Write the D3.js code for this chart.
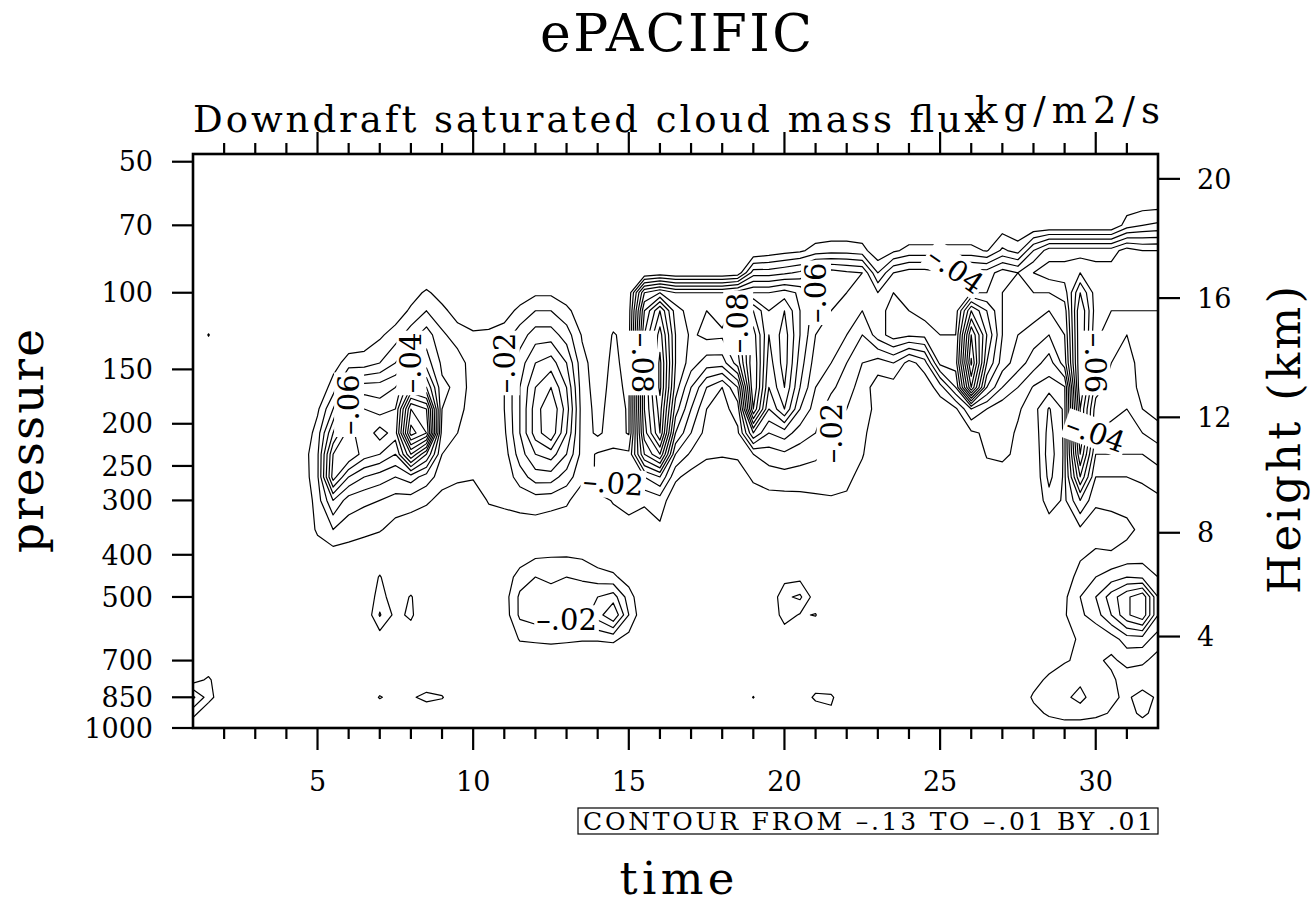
<!DOCTYPE html>
<html>
<head>
<meta charset="utf-8">
<script src="https://cdn.jsdelivr.net/npm/d3@7"></script>
<style>
  body { margin: 0; background: #fff; }
  text { font-family: "DejaVu Serif", serif; fill: #000; }
</style>
</head>
<body>
<svg id="chart" width="1314" height="907"></svg>
<script>
// grid: time (days) x pressure (hPa); values are downdraft flux in units of -0.01 kg/m2/s
var times = [1, 1.5, 2, 2.5, 3, 3.5, 4, 4.5, 5, 5.5, 6, 6.5, 7, 7.5, 8, 8.5, 9, 9.5, 10, 10.5,
  11, 11.5, 12, 12.5, 13, 13.5, 14, 14.5, 15, 15.5, 16, 16.5, 17, 17.5, 18, 18.5, 19, 19.5, 20, 20.5,
  21, 21.5, 22, 22.5, 23, 23.5, 24, 24.5, 25, 25.5, 26, 26.5, 27, 27.5, 28, 28.5, 29, 29.5, 30, 30.5,
  31, 31.5, 32];
var levels = [1000, 925, 850, 775, 700, 625, 550, 500, 450, 400, 350, 300, 265, 235, 210, 185, 165,
  145, 125, 110, 100, 90, 80, 70, 60, 48];

// one row per level, top of the atmosphere first
var f48 = [0,0,0,0,0,0,0,0,0, 0,0,0,0,0,0,0,0,0, 0,0,0,0,0,0,0,0,0, 0,0,0,0,0,0,0,0,0, 0,0,0,0,0,0,0,0,0, 0,0,0,0,0,0,0,0,0, 0,0,0,0,0,0,0,0,0];
var f60 = [0,0,0,0,0,0,0,0,0, 0,0,0,0,0,0,0,0,0, 0,0,0,0,0,0,0,0,0, 0,0,0,0,0,0,0,0,0, 0,0,0,0,0,0,0,0,0, 0,0,0,0,0,0,0,0,0, 0,0,0,0,0,0,0,0,0];
var f70 = [0,0,0,0,0,0,0,0,0, 0,0,0,0,0,0,0,0,0, 0,0,0,0,0,0,0,0,0, 0,0,0,0,0,0,0,0,0, 0,0,0,0,0,0,0,0,0, 0,0,0,0,0,0,0,0.4,0, 0,0,0,0,0,0,1.5,2,2.2];
var f80 = [0,0,0,0,0,0,0,0,0, 0,0,0,0,0,0,0,0,0, 0,0,0,0,0,0,0,0,0, 0,0,0,0,0,0,0,0,0, 0,0.3,0.6,0.8,1.4,1.6,1.6,1.4,0.2, 0.8,1.3,1.3,1.3,1.3,1.3,0.9,2.2,1.6, 4,5.5,5.5,5.5,5.5,5.5,6.5,6,6];
var f90 = [0,0,0,0,0,0,0,0,0, 0,0,0,0,0,0,0,0,0, 0,0,0,0,0,0,0,0,0, 0,0,0,0.3,0,0,0,0,0.3, 3.5,3.5,3.8,4.2,5.5,5.5,5.2,5,2, 4,4.5,4.5,4.2,4.5,4.5,4.5,5.5,5, 6,6.5,6.5,7,6.5,6.5,7,6.5,6.5];
var f100 = [0,0,0,0,0,0,0,0,0, 0,0,0,0,0,0.5,1.2,0.5,0, 0,0,0,0.3,0.8,0.8,0.3,0,0, 0,0.3,6,7,6,6,6,6,6.5, 7,7,7.5,6.8,6,5.5,5,4.5,4, 5,4.5,4,4,4.3,5,5,5,4.5, 5,5,5.5,9,6.5,6,7,6.5,6.5];
var f110 = [0,0,0,0,0,0,0,0,0, 0,0,0,0,0.3,1.2,2,1.3,0.5, 0,0,0.5,1.3,2,2,1.3,0.3,0, 0.3,0.5,8,11,7.5,6.5,7,6.5,7.5, 10,8,9,7,5.5,5,4.5,4,4.5, 5.5,5,4.8,4.5,4.5,9,7,5,4.5, 4.5,4,4.5,10,6.5,6,6,6,6];
var f125 = [0,1.05,0,0,0,0,0,0,0, 0,0,0.3,0.8,1.5,2.5,3.5,2.2,1.5, 1.2,1.3,1.5,2.5,3.5,3.5,2.5,0.9,0, 1.1,0.6,9,12.5,8,6.8,7.3,7.2,8.5, 11.5,8,9.5,7,5,4.5,4,3,4.5, 5.5,5.2,5.3,5,5,12,8,5,4, 3.5,3,4,10,6.2,5.5,5,5,5.5];
var f145 = [0,0,0,0,0,0,0,0,0, 0.5,1.5,1.5,2,3,4,4.5,2.8,2.5, 1.5,1.1,2,3.5,5,5.5,4,1.3,0.5, 1.2,0.7,9,13.3,8,6.5,5.5,5.5,7.5, 12,7.5,9.5,6.5,4.5,4,3,2,1.5, 2,0.6,1.5,5.3,5.5,13.2,7,4.5,3.5, 2.5,1.5,3.5,10,6,5,4.5,5.5,6];
var f165 = [0,0,0,0,0,0,0,0,0, 1.5,4,4.5,4.5,5,8,7,3.2,2.8, 1.4,1.1,2,4,6,7,5,1.4,0.6, 1.3,0.8,9,13.3,7.5,5,3,2,4, 12,7,9,6,4,3.2,2.5,1.5,0.5, 0.5,0.2,0.3,1.5,4,11,5,3,2, 0.9,0.6,0.9,10,5.5,4.5,4.2,5.5,6];
var f185 = [0,0,0,0,0,0,0,0,0.8, 3,6.5,6,5.5,6,12,11,3,2.5, 1.3,1.2,2,4,6.5,8,5.5,1.5,0.7, 1.4,0.9,9,12.5,6.5,4,2,1.6,2.5, 11,6,8,5,3.5,2.5,2,1.3,0.8, 0.5,0,0,0.3,0.8,3,2,1.3,1.1, 0.6,2.1,0.8,9,4.5,4.2,4,5,5.5];
var f210 = [0,0,0,0,0,0,0,0,1.5, 5,7.5,6.2,7.5,6.5,13.5,12,2.5,2, 1.3,1.2,1.8,4,6.5,7.8,5,1.5,0.8, 1.5,0.9,8.5,12,5,3,1.6,1.4,1.8, 6,4,4.5,3.5,3,2,1.6,1.2,0.5, 0,0,0,0,0,0.8,1.2,1.3,0.9, 0.3,2.4,0.8,9,4,3.8,3.5,4,4.5];
var f235 = [0,0,0,0,0,0,0,0.4,1.8, 7,8,6.5,6,5,9,6,2,1.6, 1.2,1.3,1.5,3.5,5,5.5,4,1.6,2.1, 2.2,2.2,7,9,3,1.8,1.2,1.1,1.2, 2,2.5,2.8,2.5,2.2,1.8,1.5,1.1,0, 0,0,0,0,0,0,1.1,1.2,0.8, 0,2.6,0.8,8,3,3,3,3,3.5];
var f265 = [0,0,0,0,0,0,0,0.3,1.8, 7.5,5,4,3.5,3,3.5,2.5,1.5,1.2, 1.1,1.2,1.3,2.5,3.5,3.5,2.5,1.3,2.2, 2.3,2.5,3,4,1.2,0.6,0.3,0.3,0.4, 1.2,1.5,1.6,1.5,1.5,1.4,1.3,0.6,0, 0,0,0,0,0,0,0.5,0.6,0, 0,2.3,0.8,6,2,2,2,2.2,2.5];
var f300 = [0,0,0,0,0,0,0,0,1.5, 4,2.5,2.2,2,1.6,1.5,1.2,0.6,0.4, 0.3,1.1,1.2,1.3,1.5,1.4,1.2,0.3,0.5, 1.1,1.2,1.2,1.5,0.3,0,0,0,0, 0.4,0.6,0.6,0.7,0.8,0.9,0.8,0,0, 0,0,0,0,0,0,0,0,0, 0,1.6,0.8,3,1.2,1.3,1.3,1.5,1.8];
var f350 = [0,0,0,0,0,0,0,0,1.2, 2,1.5,1.3,1.1,0.6,0.3,0,0,0, 0,0.3,0.5,0.6,0.5,0.3,0.2,0,0, 0.3,0.8,0.3,0.8,0,0,0,0,0, 0,0,0,0,0,0,0,0,0, 0,0,0,0,0,0,0,0,0, 0,0.3,0.3,0.8,0.4,0.5,0.8,1.2,1.5];
var f400 = [0,0,0,0,0,0,0,0,0.3, 0.5,0.5,0.3,0,0,0,0,0,0, 0,0,0,0.3,0.8,0.9,0.9,0.8,0.3, 0.2,0,0,0,0,0,0,0,0, 0,0,0,0,0,0,0,0,0, 0,0,0,0,0,0,0,0,0, 0,0,0,0.8,1.2,1.1,1.3,1.5,1.5];
var f450 = [0,0,0,0,0,0,0,0,0, 0,0,0,1.1,0,0,0,0,0, 0,0,0.3,1.5,2,1.8,2,1.8,1.5, 1.2,0.5,0,0,0,0,0,0,0, 0,0,0.6,0.7,0,0,0,0,0, 0,0,0,0,0,0,0,0,0, 0,0,0.3,1.5,2,2.5,3,2.8,2];
var f500 = [0,0,0,0,0,0,0,0,0, 0,0,0,1.5,0.3,1.1,0,0,0, 0,0,0.5,2.2,2.5,2.4,2.5,2.8,3, 3.5,1.5,0,0,0,0,0,0,0, 0,0,1.8,2.2,0.4,0,0,0,0, 0,0,0,0,0,0,0,0,0, 0,0,0.8,2,3,4.5,5.8,6.8,3];
var f550 = [0,0,0,0,0,0,0,0,0, 0,0,0,2.1,0.7,1.2,0,0,0, 0,0,0.4,2.2,2.5,2.3,2.2,2.6,3.5, 5,2,0,0,0,0,0,0,0, 0,0,1.5,0.9,1.05,0,0,0,0, 0,0,0,0,0,0,0,0,0, 0,0,0.9,1.8,2.5,4,5.8,6.8,3];
var f625 = [0,0,0,0,0,0,0,0,0, 0,0,0,0.4,0,0.3,0,0,0, 0,0,0,1.1,1.2,1.3,1.2,1.1,1.1, 1.2,0.6,0,0,0,0,0,0,0, 0,0,0.2,0.2,0,0,0,0,0, 0,0,0,0,0,0,0,0,0, 0,0,0.5,1.2,1.1,1.5,2.5,2.5,1.5];
var f700 = [0,0,0,0,0,0,0,0,0, 0,0,0,0,0,0,0,0,0, 0,0,0,0,0,0,0,0,0, 0,0,0,0,0,0,0,0,0, 0,0,0,0,0,0,0,0,0, 0,0,0,0,0,0,0,0,0, 0,0.3,0.9,1.2,1.2,0.8,1.3,1.2,0.6];
var f775 = [0.5,1.2,0,0,0,0,0,0,0, 0,0,0,0,0,0,0,0,0, 0,0,0,0,0,0,0,0,0, 0,0,0,0,0,0,0,0,0, 0,0,0,0,0,0,0,0,0, 0,0,0,0,0,0,0,0,0, 0.5,1.3,1.6,1.8,1.5,1.2,0.5,0.3,0];
var f850 = [3.2,1.5,0,0,0,0,0,0,0, 0,0,0,1.1,0.5,0.8,1.4,1.1,0, 0,0,0,0,0,0,0,0,0, 0,0,0,0,0,0,0,0,0, 1.05,0,0,0,1.3,1.2,0,0,0, 0,0,0,0,0,0,0,0,0, 1.2,1.6,1.8,2.3,1.5,1.2,0.8,1.5,0.8];
var f925 = [1.4,0,0,0,0,0,0,0,0, 0,0,0,0,0,0,0,0,0, 0,0,0,0,0,0,0,0,0, 0,0,0,0,0,0,0,0,0, 0,0,0,0,0,0.8,0,0,0, 0,0,0,0,0,0,0,0,0, 0.6,1.2,1.5,1.5,1.3,0.9,0.5,1.3,0.5];
var f1000 = [0,0,0,0,0,0,0,0,0, 0,0,0,0,0,0,0,0,0, 0,0,0,0,0,0,0,0,0, 0,0,0,0,0,0,0,0,0, 0,0,0,0,0,0,0,0,0, 0,0,0,0,0,0,0,0,0, 0.2,0.3,0.4,0.4,0.3,0.2,0.2,0.3,0];

var contourLevels = [-0.13, -0.12, -0.11, -0.10, -0.09, -0.08, -0.07, -0.06, -0.05, -0.04, -0.03, -0.02, -0.01];

var pressureTicks = [50, 70, 100, 150, 200, 250, 300, 400, 500, 700, 850, 1000];
var heightTicks = [4, 8, 12, 16, 20];
var timeLabels = [5, 10, 15, 20, 25, 30];

// where the line labels sit (value, time, pressure, text angle)
var lineLabels = [
  { v: -0.06, t: 5.6, p: 175, rot: -90 },
  { v: -0.04, t: 8.2, p: 140, rot: -90 },
  { v: -0.02, t: 10.9, p: 140, rot: -90 },
  { v: -0.02, t: 14.5, p: 250, rot: 5 },
  { v: -0.08, t: 14.95, p: 150, rot: 90 },
  { v: -0.08, t: 18.9, p: 125, rot: -90 },
  { v: -0.06, t: 20.8, p: 98, rot: -90 },
  { v: -0.02, t: 21.8, p: 200, rot: -90 },
  { v: -0.04, t: 25.5, p: 105, rot: 35 },
  { v: -0.06, t: 30.0, p: 140, rot: 90 },
  { v: -0.04, t: 30.0, p: 205, rot: 20 },
  { v: -0.02, t: 13.0, p: 590, rot: 0 }
];

var svg = d3.select("#chart");
var pL = 193, pR = 1158, pT = 154, pB = 728;

var x = d3.scaleLinear().domain([1, 32]).range([pL, pR]);
var y = d3.scaleLog().domain([1000, 48]).range([pB, pT]);

// grid index -> pixel
var gx = d3.scaleLinear().domain(times.map(function (d, i) { return i; })).range(times.map(x)).clamp(true);
var gy = d3.scaleLinear().domain(levels.map(function (d, j) { return j; })).range(levels.map(y)).clamp(true);

var rows = [f1000, f925, f850, f775, f700, f625, f550, f500, f450, f400, f350, f300, f265,
  f235, f210, f185, f165, f145, f125, f110, f100, f90, f80, f70, f60, f48];
var field = [].concat.apply([], rows);
var thresholds = contourLevels.map(function (v) { return Math.round(-v * 100); });

var contours = d3.contours()
  .size([times.length, levels.length])
  .thresholds(thresholds)(field);

function toPx(p) { return [gx(p[0] - 0.5), gy(p[1] - 0.5)]; }

svg.append("clipPath").attr("id", "clip")
  .append("rect").attr("x", pL).attr("y", pT).attr("width", pR - pL).attr("height", pB - pT);

var line = d3.line().curve(d3.curveLinearClosed);

var cg = svg.append("g").attr("clip-path", "url(#clip)");
cg.selectAll("path")
  .data(contours)
  .enter().append("path")
  .attr("d", function (c) {
    return c.coordinates.map(function (poly) {
      return poly.map(function (ring) { return line(ring.map(toPx)); }).join("");
    }).join("");
  })
  .attr("fill", "none")
  .attr("stroke", "#000")
  .attr("stroke-width", 1.2)
  .attr("stroke-linejoin", "round");

// line labels, snapped onto the nearest point of their own contour
var lg = svg.append("g");
lineLabels.forEach(function (l) {
  var k = Math.round(-l.v * 100);
  var c = contours.find(function (d) { return d.value === k; });
  var ax = x(l.t), ay = y(l.p), best = [ax, ay], bd = 35 * 35;
  c.coordinates.forEach(function (poly) {
    poly.forEach(function (ring) {
      ring.forEach(function (p) {
        var q = toPx(p), dd = (q[0] - ax) * (q[0] - ax) + (q[1] - ay) * (q[1] - ay);
        if (dd < bd) { bd = dd; best = q; }
      });
    });
  });
  var g = lg.append("g").attr("transform", "translate(" + best[0] + "," + best[1] + ") rotate(" + l.rot + ")");
  var t = g.append("text")
    .attr("text-anchor", "middle")
    .attr("dy", "0.36em")
    .style("font-size", "29px")
    .text("\u2013" + Math.abs(l.v).toFixed(2).slice(1));
  var bb = t.node().getBBox();
  g.insert("rect", "text")
    .attr("x", bb.x - 2).attr("y", bb.y + 2)
    .attr("width", bb.width + 4).attr("height", bb.height - 4)
    .attr("fill", "#fff");
});

// frame
svg.append("rect")
  .attr("x", pL).attr("y", pT).attr("width", pR - pL).attr("height", pB - pT)
  .attr("fill", "none").attr("stroke", "#000").attr("stroke-width", 2.6);

var ax = svg.append("g").attr("stroke", "#000").attr("stroke-width", 2.2);

// time ticks, bottom and top
var minor = d3.range(2, 32);
minor.forEach(function (d) {
  var len = timeLabels.indexOf(d) >= 0 ? 22 : 11;
  ax.append("line").attr("x1", x(d)).attr("x2", x(d)).attr("y1", pB).attr("y2", pB + len);
  ax.append("line").attr("x1", x(d)).attr("x2", x(d)).attr("y1", pT).attr("y2", pT - len);
});
svg.selectAll(".tl").data(timeLabels).enter().append("text")
  .attr("x", function (d) { return x(d); }).attr("y", 791)
  .attr("text-anchor", "middle").style("font-size", "27px")
  .text(function (d) { return d; });

// pressure axis
pressureTicks.forEach(function (p) {
  ax.append("line").attr("x1", pL - 21).attr("x2", pL).attr("y1", y(p)).attr("y2", y(p));
});
svg.selectAll(".pl").data(pressureTicks).enter().append("text")
  .attr("x", 153).attr("y", function (d) { return y(d); }).attr("dy", "0.36em")
  .attr("text-anchor", "end").style("font-size", "27px")
  .text(function (d) { return d; });

// height axis (standard atmosphere)
function stdPressure(km) {
  return km <= 11 ? 1013.25 * Math.pow(1 - 0.0065 * km * 1000 / 288.15, 5.25588)
                  : 226.32 * Math.exp(-(km - 11) / 6.3416);
}
heightTicks.forEach(function (h) {
  var yy = y(stdPressure(h));
  ax.append("line").attr("x1", pR).attr("x2", pR + 22).attr("y1", yy).attr("y2", yy);
});
svg.selectAll(".hl").data(heightTicks).enter().append("text")
  .attr("x", 1197).attr("y", function (d) { return y(stdPressure(d)); }).attr("dy", "0.36em")
  .style("font-size", "27px")
  .text(function (d) { return d; });

// titles
svg.append("text").attr("x", 676).attr("y", 51).attr("text-anchor", "middle")
  .attr("textLength", 272).attr("lengthAdjust", "spacing")
  .style("font-size", "52px").text("ePACIFIC");
svg.append("text").attr("x", 193).attr("y", 132)
  .attr("textLength", 792).attr("lengthAdjust", "spacing")
  .style("font-size", "37px").text("Downdraft saturated cloud mass flux");
svg.append("text").attr("x", 975).attr("y", 123)
  .attr("textLength", 185).attr("lengthAdjust", "spacing")
  .style("font-size", "37px").text("kg/m2/s");
svg.append("text").attr("transform", "translate(43,441) rotate(-90)")
  .attr("text-anchor", "middle").attr("textLength", 224).attr("lengthAdjust", "spacing")
  .style("font-size", "47px").text("pressure");
svg.append("text").attr("x", 677).attr("y", 894).attr("text-anchor", "middle")
  .attr("textLength", 115).attr("lengthAdjust", "spacing")
  .style("font-size", "45px").text("time");
svg.append("text").attr("transform", "translate(1300,440) rotate(-90)")
  .attr("text-anchor", "middle").attr("textLength", 308).attr("lengthAdjust", "spacing")
  .style("font-size", "45px").text("Height (km)");

// contour info box
svg.append("rect").attr("x", 578).attr("y", 808).attr("width", 580).attr("height", 26)
  .attr("fill", "#fff").attr("stroke", "#000").attr("stroke-width", 1.2);
svg.append("text").attr("x", 583).attr("y", 830)
  .attr("textLength", 570).attr("lengthAdjust", "spacing")
  .style("font-size", "25px")
  .text("CONTOUR FROM \u2013" + Math.abs(contourLevels[0]).toFixed(2).slice(1) + " TO \u2013" +
        Math.abs(contourLevels[contourLevels.length - 1]).toFixed(2).slice(1) + " BY .01");
</script>
</body>
</html>
